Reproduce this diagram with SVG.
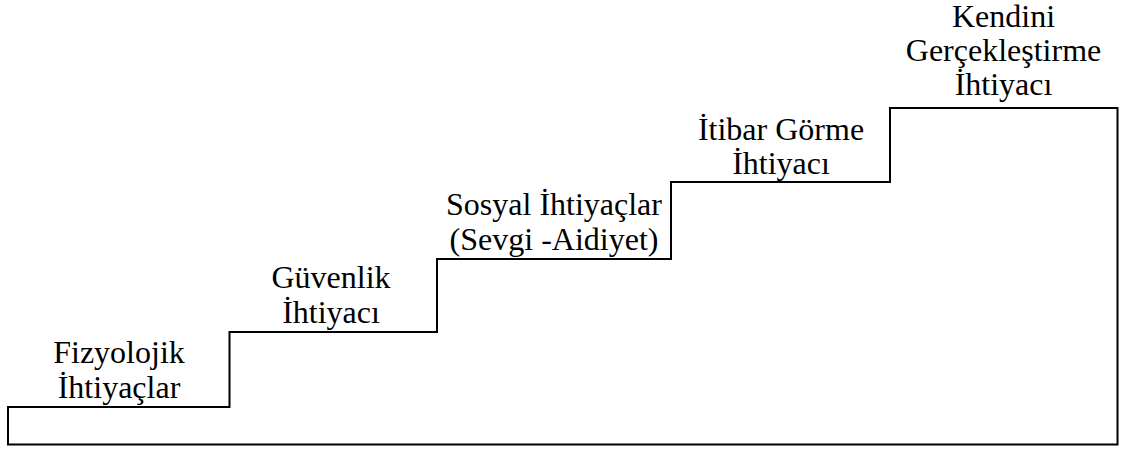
<svg xmlns="http://www.w3.org/2000/svg" width="1123" height="451" viewBox="0 0 1123 451">
  <style>
    .outline { fill: none; stroke: #000; stroke-width: 2; stroke-linejoin: miter; }
    .lbl { font-family: "Liberation Serif", "Times New Roman", serif; font-size: 32px; fill: #000; text-anchor: middle; }
  </style>
  <rect width="1123" height="451" fill="#fff"/>

  <!-- staircase outline -->
  <g id="staircase">
    <path class="outline" d="M8,407 H229.5 V332 H437 V259 H671 V182 H890 V108 H1117.5 V444.5 H8 Z"/>
  </g>

  <!-- step labels -->
  <g id="step-1">
    <text class="lbl" x="119" y="363">Fizyolojik</text>
    <text class="lbl" x="119" y="398">İhtiyaçlar</text>
  </g>
  <g id="step-2">
    <text class="lbl" x="331" y="288">Güvenlik</text>
    <text class="lbl" x="331" y="323">İhtiyacı</text>
  </g>
  <g id="step-3">
    <text class="lbl" x="554" y="215">Sosyal İhtiyaçlar</text>
    <text class="lbl" x="554" y="250">(Sevgi -Aidiyet)</text>
  </g>
  <g id="step-4">
    <text class="lbl" x="781" y="140">İtibar Görme</text>
    <text class="lbl" x="781" y="174">İhtiyacı</text>
  </g>
  <g id="step-5">
    <text class="lbl" x="1003.5" y="27">Kendini</text>
    <text class="lbl" x="1003.5" y="61">Gerçekleştirme</text>
    <text class="lbl" x="1003.5" y="95">İhtiyacı</text>
  </g>
</svg>
